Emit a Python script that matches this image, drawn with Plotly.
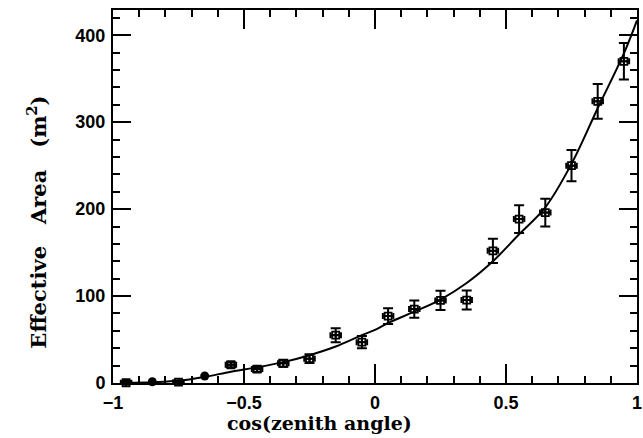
import plotly.graph_objects as go

# Data
cos_x = [-0.95, -0.75, -0.55, -0.45, -0.35, -0.25, -0.15, -0.05, 0.05, 0.15,
         0.25, 0.35, 0.45, 0.55, 0.65, 0.75, 0.85, 0.95]
area = [0.3, 1.0, 21, 16, 22.6, 28, 55, 47, 77, 85,
        95, 95.4, 152, 188.5, 196, 250, 324, 370]
area_err = [2, 2, 3, 3, 4, 5, 8, 7, 9, 10,
            11, 11, 14, 16, 16, 18, 20, 21]
x_half = [0.02] * len(cos_x)

dot_x = [-0.85, -0.65]
dot_y = [1.5, 8]

fit_x = [-0.95, -0.85, -0.75, -0.65, -0.55, -0.45, -0.35, -0.25, -0.15, -0.05,
         0.0, 0.05, 0.15, 0.25, 0.35, 0.45, 0.55, 0.65, 0.75, 0.85, 0.95, 1.0]
fit_y = [0.3, 1.0, 2.5, 7, 13, 18, 24, 32, 42, 55,
         61, 69, 82, 96, 115, 140, 171, 202, 252, 316, 379, 417]

x_ticks = [-1, -0.5, 0, 0.5, 1]
x_tick_text = ["\u22121", "\u22120.5", "0", "0.5", "1"]
y_ticks = [0, 100, 200, 300, 400]

fig = go.Figure()
fig.add_trace(go.Scatter(x=fit_x, y=fit_y, mode="lines", line=dict(color="black", width=2, shape="spline"),
                         hoverinfo="skip"))
fig.add_trace(go.Scatter(
    x=cos_x, y=area, mode="markers",
    marker=dict(symbol="square-cross-open", size=7, color="black", line=dict(width=1.8, color="black")),
    error_y=dict(type="data", array=area_err, color="black", thickness=2, width=5),
    error_x=dict(type="data", array=x_half, color="black", thickness=2, width=3),
    cliponaxis=False,
))
fig.add_trace(go.Scatter(x=dot_x, y=dot_y, mode="markers",
                         marker=dict(symbol="circle", size=9, color="black"), cliponaxis=False))

axis_common = dict(showgrid=False, zeroline=False, showline=True, linecolor="black", linewidth=2,
                   mirror="ticks", ticks="inside", tickcolor="black", tickwidth=2,
                   ticklabeloverflow="allow",
                   tickfont=dict(family="Liberation Sans", size=18, color="black", weight="bold"))

fig.update_xaxes(range=[-1, 1], tickvals=x_ticks, ticktext=x_tick_text, ticklen=19,
                 ticklabelstandoff=2,
                 minor=dict(dtick=0.1, ticklen=7, ticks="inside", tickcolor="black", tickwidth=2),
                 **axis_common)
fig.update_yaxes(range=[0, 429], tickvals=y_ticks, ticklen=18, ticklabelstandoff=2,
                 minor=dict(dtick=20, ticklen=7, ticks="inside", tickcolor="black", tickwidth=2),
                 **axis_common)

fig.add_annotation(text="cos(zenith angle)", xref="paper", yref="paper", x=0.395, y=-0.108,
                   xanchor="center", yanchor="middle", showarrow=False,
                   font=dict(family="DejaVu Serif", size=19, color="black", weight="bold"))
fig.add_annotation(text="Effective   Area   (m<sup>2</sup>)", xref="paper", yref="paper",
                   x=-0.145, y=0.43, xanchor="center", yanchor="middle", textangle=-90,
                   showarrow=False, font=dict(family="DejaVu Serif", size=21, color="black", weight="bold"))

fig.update_layout(width=643, height=438, margin=dict(l=113, r=1, t=10, b=55),
                  plot_bgcolor="white", paper_bgcolor="white", showlegend=False)

fig.write_html("out.html")
